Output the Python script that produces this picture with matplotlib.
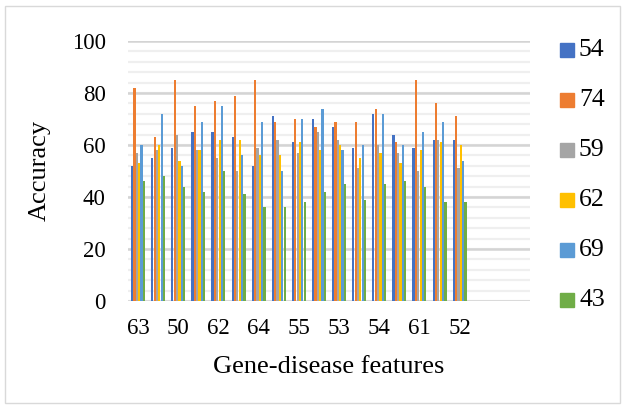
import matplotlib
matplotlib.use("Agg")
import matplotlib.pyplot as plt
import numpy as np
from matplotlib.patches import Rectangle

plt.rcParams['font.family'] = ['Liberation Serif', 'DejaVu Serif']

series_names = ["54", "74", "59", "62", "69", "43"]
colors = ["#4472C4", "#ED7D31", "#A5A5A5", "#FFC000", "#5B9BD5", "#70AD47"]

s54 = [52, 55, 59, 65, 65, 63, 52, 71, 61, 70, 67, 59, 72, 64, 59, 62, 62]
s74 = [82, 63, 85, 75, 77, 79, 85, 69, 70, 67, 69, 69, 74, 61, 85, 76, 71]
s59 = [57, 58, 64, 58, 55, 50, 59, 62, 57, 65, 62, 51, 60, 57, 50, 62, 51]
s62 = [53, 60, 54, 58, 62, 62, 56, 56, 61, 58, 60, 55, 57, 53, 58, 61, 60]
s69 = [60, 72, 52, 69, 75, 56, 69, 50, 70, 74, 58, 60, 72, 60, 65, 69, 54]
s43 = [46, 48, 44, 42, 50, 41, 36, 36, 38, 42, 45, 39, 45, 46, 44, 38, 38]
series = [s54, s74, s59, s62, s69, s43]

tick_labels = ["63", "50", "62", "64", "55", "53", "54", "61", "52"]
n_slots = 20  # axis has room for 20 categories, 17 filled

W, H = 626, 408
fig = plt.figure(figsize=(W / 100, H / 100), dpi=100)
ax = fig.add_axes([128 / W, 1 - 301 / H, (530 - 128) / W, (301 - 41) / H])

n = len(s54)
x = np.arange(n)
bw = 0.117
for i, (vals, c) in enumerate(zip(series, colors)):
    ax.bar(x + (i - 2.5) * bw, vals, width=bw * 0.95, color=c, zorder=3, linewidth=0)

ax.set_xlim(-0.5, n_slots - 0.5)
ax.set_ylim(0, 100)

# gridlines
for v in range(0, 101, 4):
    ax.axhline(v, color="#efefef", lw=1.6, zorder=1)
for v in range(0, 101, 20):
    ax.axhline(v, color="#d4d4d4", lw=1.8, zorder=1.5)

ax.set_yticks(range(0, 101, 20))
ax.set_xticks(x[::2])
ax.set_xticklabels(tick_labels)
ax.tick_params(axis="both", length=0, labelsize=16.5, colors="black")
ax.tick_params(axis="y", pad=16)
ax.tick_params(axis="x", pad=12)
for s in ax.spines.values():
    s.set_visible(False)
ax.set_facecolor("none")

fig.text(40 / W, 1 - 170 / H, "Accuracy", rotation=90, ha="center", va="center", fontsize=19)
fig.text(329 / W, 1 - 367 / H, "Gene-disease features", ha="center", va="center", fontsize=19)

# legend
for k, (name, c) in enumerate(zip(series_names, colors)):
    yc = 50 + 50 * k
    fig.patches.append(Rectangle((560 / W, 1 - (yc + 7) / H), 14 / W, 14 / H,
                                 transform=fig.transFigure, color=c, figure=fig))
    fig.text(579 / W, 1 - yc / H, name, ha="left", va="center", fontsize=18.5)

# chart border
fig.patches.append(Rectangle((5 / W, 5 / H), (W - 11) / W, (H - 11) / H,
                             transform=fig.transFigure, fill=False,
                             edgecolor="#d9d9d9", lw=1, figure=fig))

fig.savefig("out.png", dpi=100)
